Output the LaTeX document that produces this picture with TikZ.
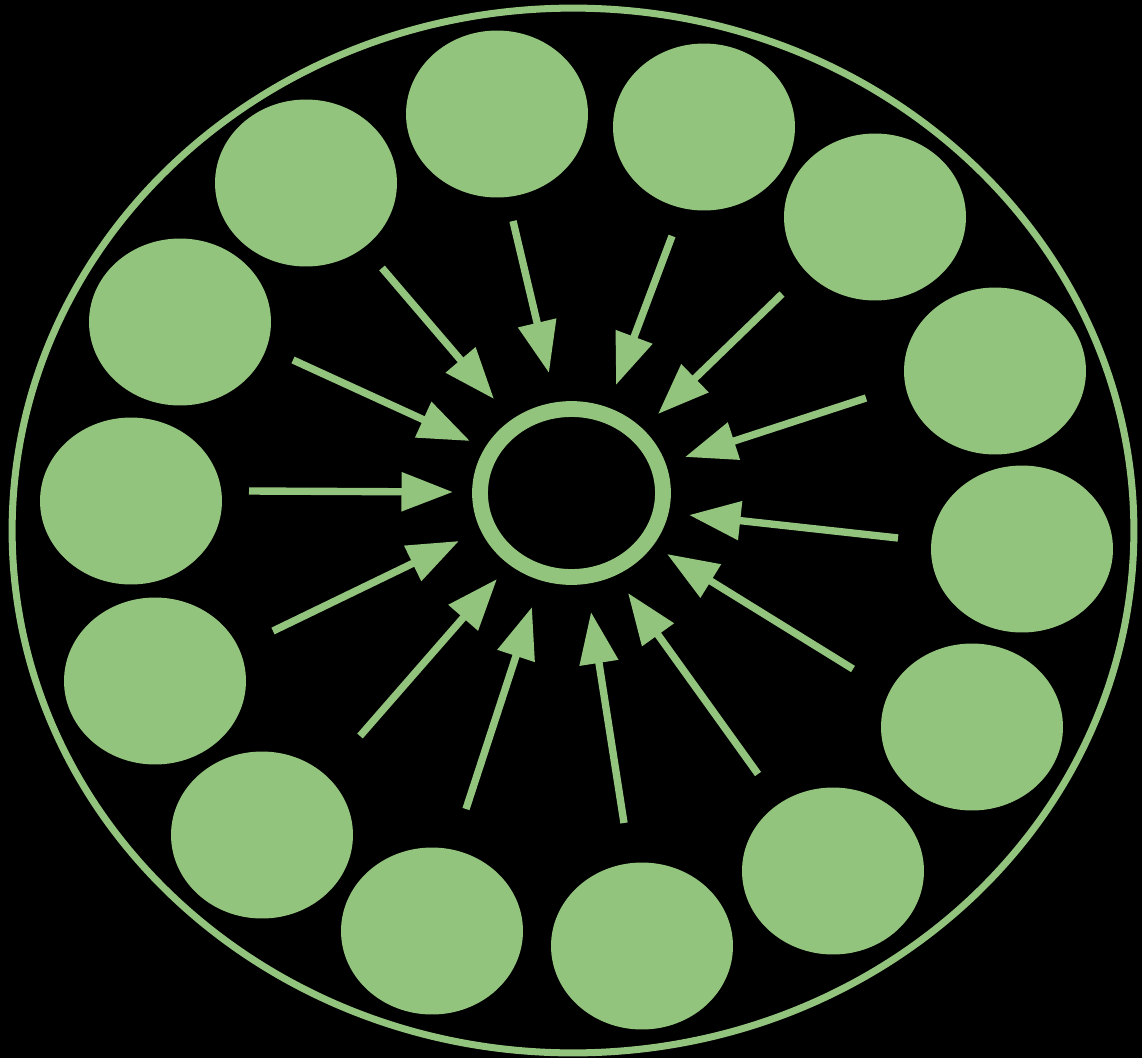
\documentclass[tikz,border=0pt]{standalone}
\usepackage{tikz}
\usetikzlibrary{arrows.meta,shapes.geometric}
\definecolor{leafgreen}{HTML}{93C47D}

\begin{document}
\begin{tikzpicture}[x=0.02cm,y=-0.02cm,
    rim/.style={ellipse,draw=leafgreen,line width=4pt,inner sep=0pt,minimum width=22.44cm,minimum height=20.9cm},
    petal/.style={ellipse,fill=leafgreen,inner sep=0pt,minimum width=3.64cm,minimum height=3.34cm},
    hub/.style={ellipse,draw=leafgreen,line width=9pt,inner sep=0pt,minimum width=3.66cm,minimum height=3.36cm},
    feed/.style={draw=leafgreen,line width=4.2pt,-{Triangle[length=1.03cm,width=0.75cm]}}]
      \useasboundingbox[fill=black] (0,0) rectangle (1142,1058);
      \node[rim] (rim) at (573,530.5) {};
      \node[hub] (hub) at (571.5,493) {};
      % petals round the ring
      \foreach \n/\px/\py in {1/497/114,2/704/127,3/875/217,4/995/371,5/1022/549,6/972/727,7/833/871,
                              8/642/946,9/432/931,10/262/835,11/155/681,12/131/501,13/180/322,14/306/183}
        \node[petal] (p\n) at (\px,\py) {};
      % arrows into the hub
      \foreach \n/\sx/\sy/\tx/\ty in {1/513/221/549/373,2/672/236/616/385,3/782/294/658/414,4/866/398/685/457,
                                      5/898/538/689/515,6/853/669/667/554,7/758/774/628/593,8/624/823/591/612,
                                      9/466/809/532/607,10/360/736/497/579,11/273/631/459/541,12/249/491/453/492,
                                      13/293/360/470/441,14/382/268/494/399}
      {
        \coordinate (s\n) at (\sx,\sy);
        \coordinate (t\n) at (\tx,\ty);
        \draw[feed] (s\n) -- (t\n);
      }
    \end{tikzpicture}
\end{document}
